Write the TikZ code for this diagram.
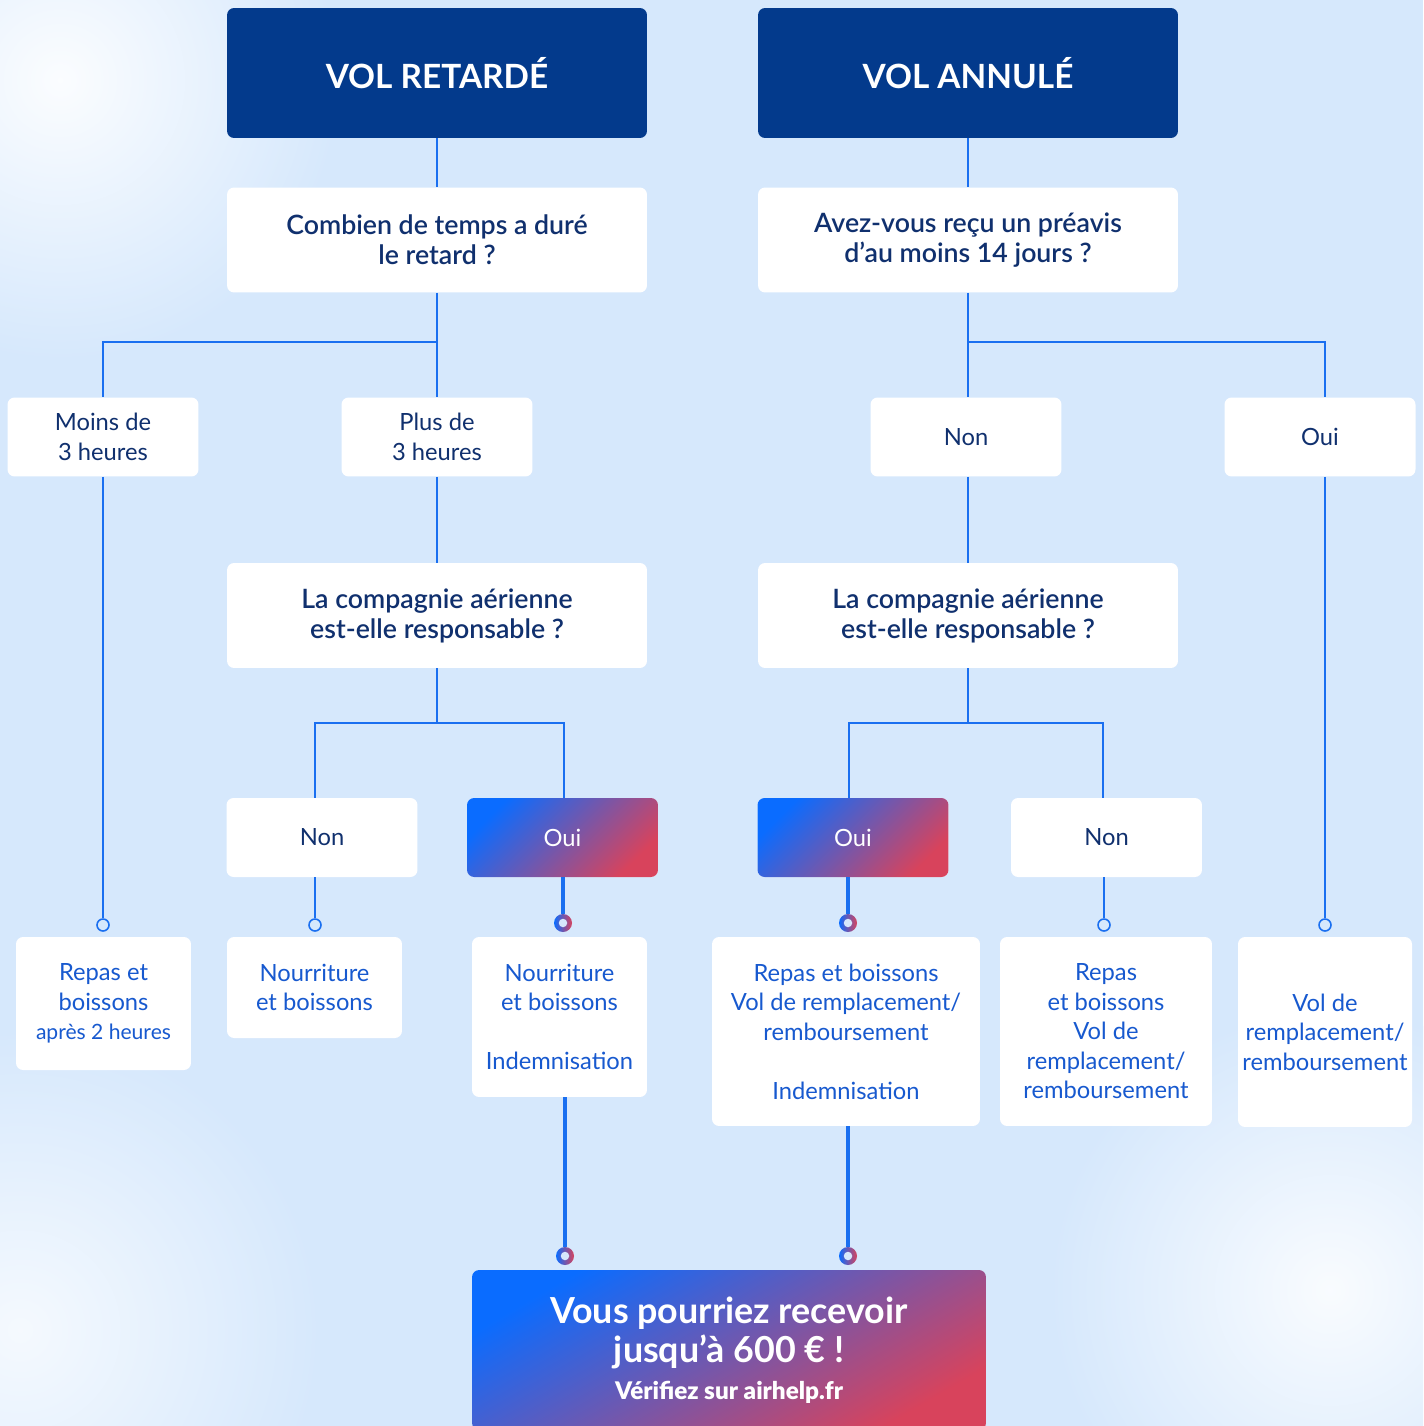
\documentclass[tikz,border=0pt]{standalone}
\usepackage{fontspec}
\setmainfont{Lato}
\newfontfamily\semib{Lato Semibold}
\usetikzlibrary{positioning}
\definecolor{bgblue}{HTML}{D6E8FC}
\definecolor{navy}{HTML}{033A8C}
\definecolor{darktext}{HTML}{10306E}
\definecolor{restext}{HTML}{1759CF}
\definecolor{linkblue}{HTML}{1A6FF0}
\definecolor{gblue}{HTML}{0A6CFF}
\definecolor{gred}{HTML}{D8435C}

\begin{document}
\begin{tikzpicture}[x=0.02cm, y=-0.02cm,
    title/.style={rectangle, rounded corners=4pt, fill=navy, text=white, minimum width=8.4cm, minimum height=2.6cm, font=\bfseries\fontsize{19}{23}\selectfont},
    question/.style={rectangle, rounded corners=4pt, fill=white, text=darktext, align=center, minimum width=8.4cm, minimum height=2.1cm, font=\semib\fontsize{15.2}{17}\selectfont},
    choice/.style={rectangle, rounded corners=4pt, fill=white, text=darktext, align=center, minimum width=3.82cm, minimum height=1.58cm, font=\fontsize{13.5}{17}\selectfont},
    gchoice/.style={choice, text=white, top color=gblue, bottom color=gred, shading angle=45},
    result/.style={rectangle, rounded corners=4pt, fill=white, text=restext, align=center, inner sep=0pt, font=\fontsize{13.5}{16.8}\selectfont},
    link/.style={draw=linkblue, line width=0.9pt},
    thicklink/.style={draw=linkblue, line width=2.6pt},
    dot/.style={circle, draw=linkblue, fill=bgblue, line width=0.9pt, minimum size=0.24cm, inner sep=0pt},
    ring/.style={circle, minimum size=0.36cm, inner sep=0pt, left color=gblue, right color=gred},
    hole/.style={circle, fill=bgblue, minimum size=0.17cm, inner sep=0pt}]

  \clip (0,0) rectangle (1423,1426);
  \fill[bgblue] (0,0) rectangle (1423,1426);
  \shade[inner color=white!90!bgblue, outer color=bgblue] (60,80) circle (280);
  \shade[inner color=white!75!bgblue, outer color=bgblue] (20,1330) circle (300);
  \shade[inner color=white!85!bgblue, outer color=bgblue] (1330,1290) circle (280);

  \node[title] (t1) at (437,73) {VOL RETARDÉ};
  \node[title] (t2) at (968,73) {VOL ANNULÉ};

  \node[question] (q1) at (437,240) {Combien de temps a duré\\le retard ?};
  \node[question] (q2) at (968,240) {Avez-vous reçu un préavis\\d’au moins 14 jours ?};

  \node[choice] (a1) at (103,437) {Moins de\\3 heures};
  \node[choice] (a2) at (437,437) {Plus de\\3 heures};
  \node[choice] (a3) at (966,437) {Non};
  \node[choice] (a4) at (1320,437) {Oui};

  \node[question] (q3) at (437,615.5) {La compagnie aérienne\\est-elle responsable ?};
  \node[question] (q4) at (968,615.5) {La compagnie aérienne\\est-elle responsable ?};

  \node[choice] (b1) at (322,837.5) {Non};
  \node[gchoice] (b2) at (562.5,837.5) {Oui};
  \node[gchoice] (b3) at (853,837.5) {Oui};
  \node[choice] (b4) at (1106.5,837.5) {Non};

  \coordinate (j1) at (437,342);
  \coordinate (j2) at (968,342);
  \coordinate (j3l) at (315,723);
  \coordinate (j3r) at (564,723);
  \coordinate (j4l) at (849,723);
  \coordinate (j4r) at (1103,723);

  \node[dot] (c1) at (103,925) {};
  \node[dot] (c2) at (315,925) {};
  \node[ring] (c3) at (563,923) {};
  \node[ring] (c4) at (848,923) {};
  \node[dot] (c5) at (1104,925) {};
  \node[dot] (c6) at (1325,925) {};

  \node[result, minimum width=3.5cm, minimum height=2.66cm] (r1) at (103.5,1003.5) {Repas et\\boissons\\{\fontsize{12}{16.8}\selectfont après 2 heures}};
  \node[result, minimum width=3.5cm, minimum height=2.02cm] (r2) at (314.5,987.5) {Nourriture\\et boissons};
  \node[result, minimum width=3.5cm, minimum height=3.2cm] (r3) at (559.5,1017) {Nourriture\\et boissons\\[16.8pt]Indemnisation};
  \node[result, minimum width=5.36cm, minimum height=3.78cm] (r4) at (846,1031.5) {Repas et boissons\\Vol de remplacement/\\remboursement\\[16.8pt]Indemnisation};
  \node[result, minimum width=4.24cm, minimum height=3.78cm] (r5) at (1106,1031.5) {Repas\\et boissons\\Vol de\\remplacement/\\remboursement};
  \node[result, minimum width=3.48cm, minimum height=3.8cm] (r6) at (1325,1032) {Vol de\\remplacement/\\remboursement};

  \node[ring] (c7) at (565,1256) {};
  \node[ring] (c8) at (848,1256) {};

  \node[rectangle, rounded corners=4pt, top color=gblue, bottom color=gred, shading angle=30, text=white, align=center, minimum width=10.28cm, minimum height=3.2cm, font=\bfseries\fontsize{20.4}{22}\selectfont] (bottom) at (729,1350)
    {Vous pourriez recevoir\\jusqu’à 600 € !\\[-1pt]{\semib\fontsize{13.8}{20}\selectfont Vérifiez sur airhelp.fr}};

  \draw[link] (t1) -- (q1);
  \draw[link] (t2) -- (q2);
  \draw[link] (q1) -- (a2);
  \draw[link] (j1) -| (a1);
  \draw[link] (q2.south) -- (q2.south |- a3.north);
  \draw[link] (j2) -| (a4.north -| c6);
  \draw[link] (a1) -- (c1);
  \draw[link] (a2) -- (q3);
  \draw[link] (a3.south -| q4) -- (q4);
  \draw[link] (a4.south -| c6) -- (c6);

  \draw[link] (q3.south) -- (q3.south |- j3l);
  \draw[link] (j3l |- b1.north) -- (j3l) -- (j3r) -- (j3r |- b2.north);
  \draw[link] (q4.south) -- (q4.south |- j4l);
  \draw[link] (j4l |- b3.north) -- (j4l) -- (j4r) -- (j4r |- b4.north);

  \draw[link] (c2 |- b1.south) -- (c2);
  \draw[link] (c5 |- b4.south) -- (c5);
  \draw[thicklink] (c3 |- b2.south) -- (c3);
  \draw[thicklink] (c4 |- b3.south) -- (c4);
  \draw[thicklink] (c7 |- r3.south) -- (c7);
  \draw[thicklink] (c8 |- r4.south) -- (c8);

  \node[hole] (h3) at (c3) {};
  \node[hole] (h4) at (c4) {};
  \node[hole] (h7) at (c7) {};
  \node[hole] (h8) at (c8) {};
\end{tikzpicture}
\end{document}
